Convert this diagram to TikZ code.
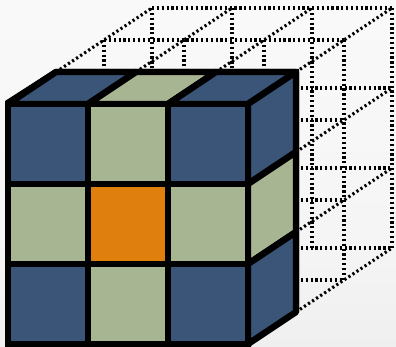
\documentclass[tikz,border=0pt]{standalone}
\usetikzlibrary{calc}
\definecolor{cubeblue}{HTML}{3A5578}
\definecolor{cubegreen}{HTML}{A7B592}
\definecolor{cubeorange}{HTML}{DF7F0D}
\pgfdeclareverticalshading{pagebg}{100bp}{color(0bp)=(black!10); color(40bp)=(black!4); color(100bp)=(black!1)}
\tikzset{
  wire/.style={line width=3.1pt,black,dash pattern=on 2.2pt off 2.65pt},
  cell/.style={draw=black,line width=6.4pt,line join=bevel},
}
\begin{document}
\begin{tikzpicture}[x=1pt,y=-1pt]
\useasboundingbox (0,0) rectangle (396,347);
\shade[shading=pagebg] (0,0) rectangle (396,347);
% dotted wire frame behind the cube
\foreach \y in {80,160,240}{
  \draw[wire] (296,40+\y) -- (344,40+\y);
  \draw[wire] (296,8+\y) -- (392,8+\y);
}
\foreach \y in {0,80,160,240}{
  \draw[wire] (296,72+\y) -- (392,8+\y);
}
\draw[wire] (104,40) -- (344,40);
\draw[wire] (152,8) -- (392,8);
\foreach \x in {0,80,160}{
  \draw[wire] (56+\x,72) -- (152+\x,8);
  \draw[wire] (104+\x,40) -- (104+\x,72);
}
\draw[wire] (152,8) -- (152,72);
\draw[wire] (232,8) -- (232,72);
\draw[wire] (344,40) -- (344,280);
\draw[wire] (392,8) -- (392,248);
\draw[wire] (312,8) -- (312,248);
% black silhouette of the cube
\fill[black] (5,101) -- (55,69) -- (299,69) -- (299,312) -- (251,344) -- (251,347) -- (5,347) -- cycle;
% top face
\foreach \c [count=\i from 0] in {cubeblue,cubegreen,cubeblue}{
  \pgfmathsetmacro{\xa}{8+80*\i}
  \draw[cell,fill=\c] (\xa,104) -- (\xa+80,104) -- (\xa+128,72) -- (\xa+48,72) -- cycle;
}
% right face
\foreach \c [count=\i from 0] in {cubeblue,cubegreen,cubeblue}{
  \pgfmathsetmacro{\ya}{104+80*\i}
  \draw[cell,fill=\c] (248,\ya) -- (296,\ya-32) -- (296,\ya+48) -- (248,\ya+80) -- cycle;
}
% front face
\foreach \c [count=\i from 0] in {cubeblue,cubegreen,cubeblue,cubegreen,cubeorange,cubegreen,cubeblue,cubegreen,cubeblue}{
  \pgfmathsetmacro{\xa}{8+80*mod(\i,3)}
  \pgfmathsetmacro{\ya}{104+80*floor(\i/3)}
  \draw[cell,fill=\c] (\xa,\ya) rectangle (\xa+80,\ya+80);
}
\end{tikzpicture}
\end{document}
